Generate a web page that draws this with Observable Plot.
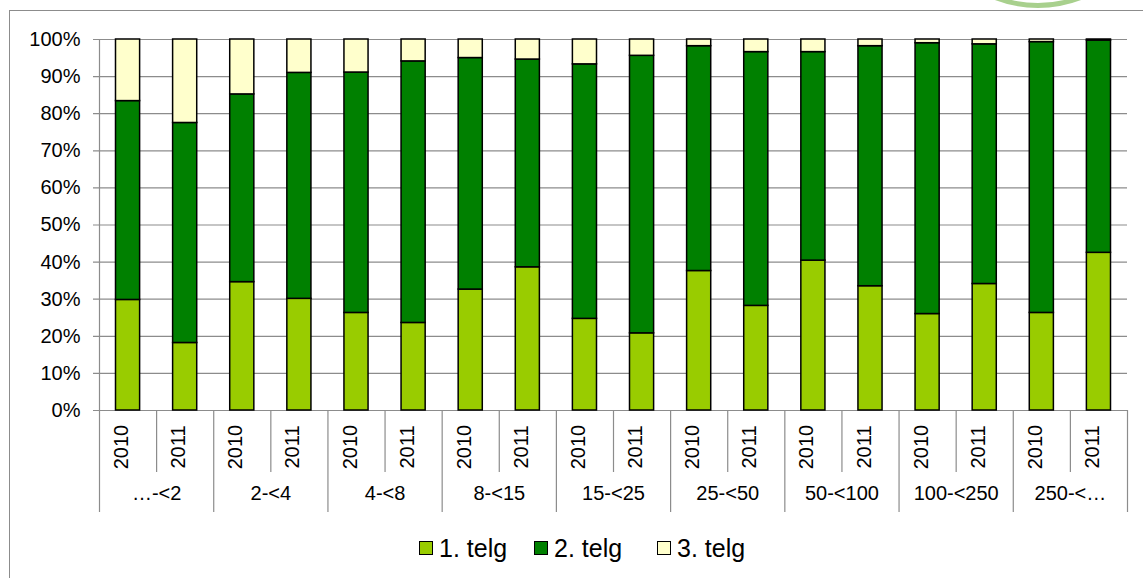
<!DOCTYPE html>
<html>
<head>
<meta charset="utf-8">
<script src="https://cdn.jsdelivr.net/npm/d3@7"></script>
<script src="https://cdn.jsdelivr.net/npm/@observablehq/plot@0.6"></script>
<style>
  html, body { margin: 0; padding: 0; background: #fff; overflow: hidden; }
  #wrap { position: relative; width: 1143px; height: 578px; overflow: hidden; font-family: "Liberation Sans", Arial, sans-serif; }
  #frame { position: absolute; left: 9px; top: 10px; width: 1200px; height: 700px; border-left: 1px solid #8c8c8c; border-top: 1px solid #8c8c8c; }
  #ring { position: absolute; left: 918px; top: -232px; width: 240px; height: 240px; box-sizing: border-box; border: 5px solid #a8d08d; border-radius: 50%; }
  #chart { position: absolute; left: 0; top: 0; }
  .lg { position: absolute; font-size: 25px; line-height: 25px; color: #000; white-space: nowrap; }
  .sw { position: absolute; width: 12px; height: 12px; border: 1px solid #000; }
</style>
</head>
<body>
<div id="wrap">
  <div id="frame"></div>
  <div id="ring"></div>
  <div id="chart"></div>
  <div id="legend"></div>
</div>
<script>
// ---- data ----
const groups = ["…-<2", "2-<4", "4-<8", "8-<15", "15-<25", "25-<50", "50-<100", "100-<250", "250-<…"];
const years = ["2010", "2011"];
const series = ["1. telg", "2. telg", "3. telg"];
const colors = ["#99CC00", "#008000", "#FFFFCC"];
// shares in percent, one value per bar (group × year)
const telg1 = [29.8, 18.2, 34.6, 30.1, 26.3, 23.6, 32.6, 38.6, 24.7, 20.8, 37.6, 28.2, 40.4, 33.5, 26.0, 34.1, 26.3, 42.5];
const telg2 = [53.6, 59.3, 50.6, 60.9, 64.8, 70.5, 62.4, 56.0, 68.6, 74.8, 60.6, 68.4, 56.2, 64.7, 73.0, 64.6, 73.0, 57.2];
const telg3 = [16.6, 22.5, 14.8, 9.0, 8.9, 5.9, 5.0, 5.4, 6.7, 4.4, 1.8, 3.4, 3.4, 1.8, 1.0, 1.3, 0.7, 0.3];
const yTicks = [0, 0.1, 0.2, 0.3, 0.4, 0.5, 0.6, 0.7, 0.8, 0.9, 1];

// ---- build tables ----
const values = [telg1, telg2, telg3];
const slots = [];
groups.forEach((g, gi) => years.forEach((yr, yi) => slots.push({i: gi * years.length + yi, group: g, year: yr})));
const rows = [];
slots.forEach(s => series.forEach((name, k) => rows.push({i: s.i, series: name, value: values[k][s.i] / 100})));
const groupRows = groups.map((g, gi) => ({g, start: gi * years.length}));
const nSlots = slots.length;
const innerBounds = slots.filter(s => s.i % years.length !== 0).map(s => s.i);
const groupBounds = groupRows.map(d => d.start).concat([nSlots]);

const font = '"Liberation Sans", Arial, sans-serif';
const grey = "#8c8c8c";

const chart = Plot.plot({
  width: 1143,
  height: 578,
  marginLeft: 99,
  marginRight: 16,
  marginTop: 39,
  marginBottom: 168,
  x: {domain: [0, nSlots], label: null},
  y: {domain: [0, 1], label: null},
  color: {domain: series, range: colors},
  style: {fontFamily: font, fontSize: "20px", background: "transparent", overflow: "visible", color: "#000"},
  marks: [
    Plot.gridY(yTicks, {stroke: grey, strokeOpacity: 1, strokeWidth: 1.2, insetLeft: -6}),
    Plot.ruleX([0], {stroke: grey, strokeWidth: 1.2}),
    Plot.axisX(innerBounds, {tickSize: 62, tickFormat: () => "", stroke: grey, strokeWidth: 1.2, label: null}),
    Plot.axisX(groupBounds, {tickSize: 102, tickFormat: () => "", stroke: grey, strokeWidth: 1.2, label: null}),
    Plot.rectY(rows, {x: "i", interval: 1, y: "value", fill: "series", stroke: "#000", strokeWidth: 1.5, insetLeft: 16.5, insetRight: 16.5}),
    Plot.axisY(yTicks, {tickSize: 0, tickPadding: 19, tickFormat: d3.format(".0%"), fontSize: 20, fill: "#000", label: null}),
    Plot.text(slots, {x: d => d.i + 0.5, text: "year", frameAnchor: "bottom", dy: 36.5, rotate: -90, fontSize: 20, fill: "#000"}),
    Plot.text(groupRows, {x: d => d.start + years.length / 2, text: "g", frameAnchor: "bottom", dy: 89, fontSize: 20, fill: "#000"})
  ]
});
document.getElementById("chart").appendChild(chart);

// ---- legend ----
const legend = document.getElementById("legend");
const swLeft = [419, 534, 657];
series.forEach((name, k) => {
  const sw = document.createElement("div");
  sw.className = "sw";
  sw.style.left = swLeft[k] + "px";
  sw.style.top = "541px";
  sw.style.background = colors[k];
  legend.appendChild(sw);
  const t = document.createElement("div");
  t.className = "lg";
  t.textContent = name;
  t.style.left = (swLeft[k] + 20) + "px";
  t.style.top = "536px";
  legend.appendChild(t);
});
</script>
</body>
</html>
